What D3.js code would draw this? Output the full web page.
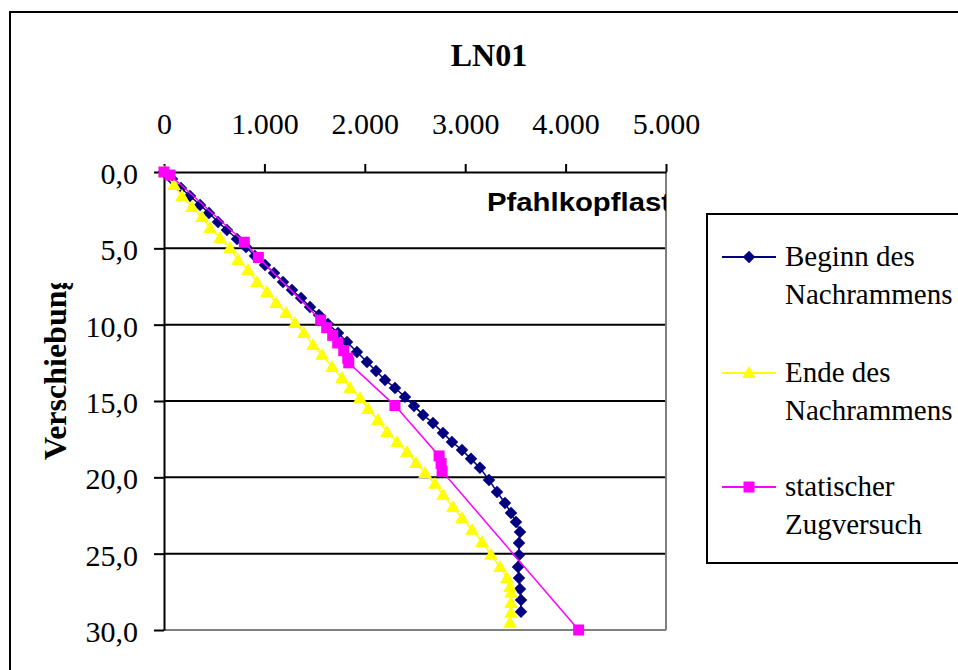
<!DOCTYPE html>
<html>
<head>
<meta charset="utf-8">
<script src="https://cdn.jsdelivr.net/npm/d3@7"></script>
<style>
  html, body { margin: 0; padding: 0; background: #fff; }
  svg { display: block; }
</style>
</head>
<body>
<svg id="chart" width="958" height="670"></svg>
<script>
// Pfahlkopflast [kN] und Verschiebung [mm] je Messreihe
const beginnLast = [0, 80, 169, 259, 359, 448, 538, 627, 727, 817, 906, 1006, 1096, 1185, 1275, 1365, 1454, 1544, 1633, 1733,
  1823, 1922, 2022, 2112, 2201, 2301, 2400, 2490, 2580, 2679, 2779, 2868, 2968, 3058, 3147, 3237, 3317, 3396, 3456, 3506,
  3546, 3536, 3536, 3526, 3536, 3546, 3556, 3556];
const beginnVerschiebung = [0, 0.46, 1.05, 1.57, 2.16, 2.69, 3.27, 3.80, 4.39, 4.91, 5.50, 6.09, 6.61, 7.20, 7.73, 8.25, 8.84, 9.36, 9.95, 10.54,
  11.13, 11.79, 12.44, 13.03, 13.62, 14.15, 14.73, 15.32, 15.91, 16.44, 17.09, 17.68, 18.21, 18.79, 19.38, 20.17, 20.96, 21.68, 22.33, 22.92,
  23.58, 24.30, 25.08, 25.87, 26.59, 27.31, 28.03, 28.81];

const endeLast = [0, 100, 179, 279, 378, 458, 558, 657, 737, 837, 926, 1026, 1116, 1215, 1305, 1394, 1484, 1574, 1673, 1773,
  1853, 1952, 2032, 2131, 2221, 2321, 2420, 2510, 2600, 2699, 2779, 2878, 2968, 3068, 3167, 3257, 3347, 3416, 3446, 3456,
  3456, 3456, 3446];
const endeVerschiebung = [0, 0.85, 1.57, 2.29, 2.95, 3.67, 4.32, 4.98, 5.76, 6.42, 7.20, 7.86, 8.58, 9.23, 9.89, 10.54, 11.33, 11.98, 12.77, 13.49,
  14.15, 14.80, 15.52, 16.24, 17.03, 17.68, 18.34, 19.06, 19.71, 20.43, 21.15, 21.94, 22.66, 23.44, 24.23, 25.08, 25.87, 26.59, 27.18, 27.57,
  28.23, 28.88, 29.53];

const zugLast = [0, 60, 800, 940, 1560, 1620, 1680, 1730, 1790, 1830, 1840, 2300, 2740, 2760, 2770, 4130];
const zugVerschiebung = [0, 0.2, 4.6, 5.6, 9.7, 10.2, 10.7, 11.2, 11.7, 12.2, 12.5, 15.3, 18.6, 19.1, 19.6, 30.0];

const lastTicks = [0, 1000, 2000, 3000, 4000, 5000];
const verschiebungTicks = [0, 5, 10, 15, 20, 25, 30];

const reihen = [
  { name: ["Beginn des", "Nachrammens"], last: beginnLast, weg: beginnVerschiebung, color: "#000080", symbol: "diamond" },
  { name: ["Ende des", "Nachrammens"], last: endeLast, weg: endeVerschiebung, color: "#FFFF00", symbol: "triangle" },
  { name: ["statischer", "Zugversuch"], last: zugLast, weg: zugVerschiebung, color: "#FF00FF", symbol: "square" }
];

const de = d3.formatLocale({ decimal: ",", thousands: ".", grouping: [3], currency: ["", " €"] });
const fmtLast = de.format(",.0f");
const fmtWeg = de.format(",.1f");

const svg = d3.select("#chart");
const serif = "'Liberation Serif', 'Times New Roman', serif";
const sans = "'Liberation Sans', Arial, sans-serif";

// Diagrammrahmen
svg.append("rect").attr("x", 10).attr("y", 12).attr("width", 1000).attr("height", 720)
  .attr("fill", "#fff").attr("stroke", "#000").attr("stroke-width", 2);

const x = d3.scaleLinear().domain([0, 5000]).range([164, 666]);
const y = d3.scaleLinear().domain([0, 30]).range([172, 630]);

// Gitternetzlinien
svg.append("g").selectAll("line").data(verschiebungTicks.filter(v => v > 0))
  .join("line")
  .attr("x1", x(0)).attr("x2", x(5000))
  .attr("y1", d => y(d)).attr("y2", d => y(d))
  .attr("stroke", d => d === 30 ? "#808080" : "#000")
  .attr("stroke-width", 2);
// rechter Rand der Zeichenfläche
svg.append("line").attr("x1", x(5000)).attr("x2", x(5000)).attr("y1", y(0)).attr("y2", y(30))
  .attr("stroke", "#808080").attr("stroke-width", 2);

// Achsen
const xAxis = svg.append("g").attr("transform", `translate(0,${y(0)})`)
  .call(d3.axisTop(x).tickValues(lastTicks).tickFormat(fmtLast).tickSize(8).tickSizeOuter(0));
const yAxis = svg.append("g").attr("transform", `translate(${x(0)},0)`)
  .call(d3.axisLeft(y).tickValues(verschiebungTicks).tickFormat(fmtWeg).tickSize(10).tickSizeOuter(0));
[xAxis, yAxis].forEach(a => {
  a.attr("font-family", serif).attr("font-size", 30);
  a.select(".domain").attr("stroke", "#000").attr("stroke-width", 2);
  a.selectAll(".tick line").attr("stroke", "#000").attr("stroke-width", 2);
  a.selectAll(".tick text").attr("fill", "#000").style("font-family", serif).style("font-size", "30px");
});
xAxis.selectAll(".tick text").attr("y", -38).attr("dy", 0);
yAxis.selectAll(".tick text").attr("x", -26).attr("dy", "0.38em");

// Achsentitel Pfahlkopflast (am Rand der Zeichenfläche abgeschnitten)
svg.append("clipPath").attr("id", "clipX")
  .append("rect").attr("x", 0).attr("y", 0).attr("width", x(5000)).attr("height", 670);
svg.append("text").attr("x", 487).attr("y", 211)
  .attr("clip-path", "url(#clipX)")
  .attr("textLength", 184).attr("lengthAdjust", "spacingAndGlyphs")
  .style("font-family", sans).style("font-weight", "bold").style("font-size", "25px")
  .text("Pfahlkopflast");

// Achsentitel Verschiebung
svg.append("clipPath").attr("id", "clipY")
  .append("rect").attr("x", 0).attr("y", 283).attr("width", 150).attr("height", 400);
svg.append("g").attr("clip-path", "url(#clipY)")
  .append("text").attr("transform", "translate(66,460) rotate(-90)")
  .style("font-family", serif).style("font-weight", "bold").style("font-size", "32px")
  .text("Verschiebung");

// Titel
svg.append("text").attr("x", 489).attr("y", 66).attr("text-anchor", "middle")
  .style("font-family", serif).style("font-weight", "bold").style("font-size", "32px")
  .text("LN01");

// Marker
function markerPath(sym) {
  if (sym === "diamond") return d3.symbol(d3.symbolSquare, 78)();
  if (sym === "triangle") return d3.symbol(d3.symbolTriangle, 82)();
  return d3.symbol(d3.symbolSquare, 121)();
}
function markerTransform(sym, px, py) {
  if (sym === "diamond") return `translate(${px},${py}) rotate(45)`;
  if (sym === "triangle") return `translate(${px},${py + 1})`;
  return `translate(${px},${py})`;
}

const line = d3.line().x(d => x(d[0])).y(d => y(d[1]));
reihen.forEach(r => {
  const pts = r.last.map((v, i) => [v, r.weg[i]]);
  const g = svg.append("g");
  g.append("path").datum(pts).attr("d", line)
    .attr("fill", "none").attr("stroke", r.color).attr("stroke-width", 1.5);
  g.selectAll("path.m").data(pts).join("path").attr("class", "m")
    .attr("d", markerPath(r.symbol))
    .attr("transform", d => markerTransform(r.symbol, x(d[0]), y(d[1])))
    .attr("fill", r.color);
});

// Legende
const lg = svg.append("g");
lg.append("rect").attr("x", 707).attr("y", 214).attr("width", 300).attr("height", 349)
  .attr("fill", "#fff").attr("stroke", "#000").attr("stroke-width", 2);
const legendY = [257, 373, 487];
reihen.forEach((r, i) => {
  const ly = legendY[i];
  lg.append("line").attr("x1", 722).attr("x2", 776).attr("y1", ly).attr("y2", ly)
    .attr("stroke", r.color).attr("stroke-width", 2);
  lg.append("path").attr("d", markerPath(r.symbol))
    .attr("transform", markerTransform(r.symbol, 749, ly)).attr("fill", r.color);
  const t = lg.append("text").attr("x", 785).attr("y", ly + 9)
    .style("font-family", serif).style("font-size", "29px");
  t.append("tspan").attr("x", 785).text(r.name[0]);
  t.append("tspan").attr("x", 785).attr("dy", 37.5).text(r.name[1]);
});
</script>
</body>
</html>
